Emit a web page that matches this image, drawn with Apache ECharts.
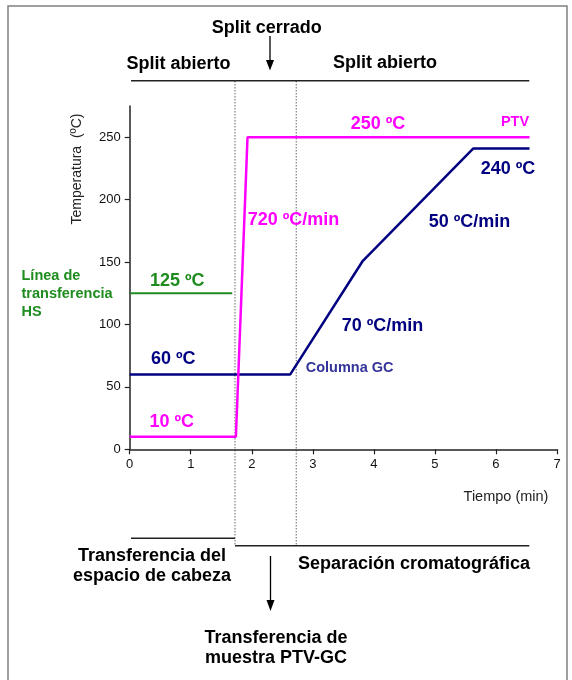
<!DOCTYPE html>
<html>
<head>
<meta charset="utf-8">
<script src="https://cdn.jsdelivr.net/npm/echarts@6/dist/echarts.min.js"></script>
<style>html,body{margin:0;padding:0;background:#fff}#c{width:572px;height:680px}</style>
</head>
<body>
<div id="c"></div>
<script>
// ---- data ----
var ptvTime = [0, 1.74, 1.93, 6.55];
var ptvTemp = [10, 10, 250, 250];
var gcTime = [0, 2.63, 3.82, 5.63, 6.55];
var gcTemp = [60, 60, 151, 241, 241];
var hsTime = [0, 1.68];
var hsTemp = [125, 125];
var splitTimes = [1.725, 2.728];
var yTicks = [0, 50, 100, 150, 200, 250];
var xTicks = [0, 1, 2, 3, 4, 5, 6, 7];

function pairs(xs, ys) { return xs.map(function (x, i) { return [x, ys[i]]; }); }

var FONT = 'Arial, "Liberation Sans", sans-serif';
var MAG = '#FF00FF', NAVY = '#000080', GREEN = '#1E8C1E', GCBLUE = '#333399';

function txt(text, x, y, size, color, align, bold, extra) {
  var o = {
    type: 'text', x: x, y: y, silent: true,
    style: { text: text, fill: color, font: (bold ? 'bold ' : '') + size + 'px ' + FONT,
             align: align || 'center', verticalAlign: 'middle' }
  };
  if (extra) for (var k in extra) o.style[k] = extra[k];
  return o;
}

var chart = echarts.init(document.getElementById('c'), null, { renderer: 'canvas' });
var option = {
  animation: false,
  backgroundColor: '#fff',
  grid: { left: 129.7, right: 15, top: 106, bottom: 230.7, containLabel: false },
  xAxis: {
    type: 'value', min: 0, max: 7, interval: 1,
    axisLine: { show: true, lineStyle: { color: '#222', width: 1.5 } },
    axisTick: { show: true, length: 5, lineStyle: { color: '#222', width: 1.2 } },
    axisLabel: { color: '#111', fontSize: 13, fontFamily: FONT, margin: 9 },
    splitLine: { show: false }
  },
  yAxis: {
    type: 'value', min: 0, max: 275,
    axisLine: { show: true, lineStyle: { color: '#222', width: 1.5 } },
    axisTick: { show: true, length: 5, customValues: yTicks, lineStyle: { color: '#222', width: 1.2 } },
    axisLabel: { color: '#111', fontSize: 13, fontFamily: FONT, margin: 9, customValues: yTicks },
    splitLine: { show: false }
  },
  series: [
    { type: 'line', data: pairs(hsTime, hsTemp), showSymbol: false, lineStyle: { color: GREEN, width: 2 }, z: 3 },
    { type: 'line', data: pairs(gcTime, gcTemp), showSymbol: false, lineStyle: { color: NAVY, width: 2.5 }, z: 4 },
    { type: 'line', data: pairs(ptvTime, ptvTemp), showSymbol: false, lineStyle: { color: MAG, width: 2.5 }, z: 5 }
  ]
};
chart.setOption(option);

var sx = splitTimes.map(function (t) { return chart.convertToPixel({ gridIndex: 0 }, [t, 0])[0]; });
var dot = { stroke: '#666', lineWidth: 1, lineDash: [1.5, 1.5] };
var solid = { stroke: '#222', lineWidth: 1.5 };

var g = [
  // frame
  { type: 'rect', shape: { x: 8, y: 6, width: 559, height: 700 }, style: { fill: 'none', stroke: '#808080', lineWidth: 1.5 }, silent: true },
  // dotted vertical split lines
  { type: 'line', shape: { x1: sx[0], y1: 81, x2: sx[0], y2: 545.7 }, style: dot, silent: true },
  { type: 'line', shape: { x1: sx[1], y1: 81, x2: sx[1], y2: 545.7 }, style: dot, silent: true },
  // top bar
  { type: 'line', shape: { x1: 131, y1: 80.7, x2: 529.3, y2: 80.7 }, style: solid, silent: true },
  // bottom bars
  { type: 'line', shape: { x1: 131, y1: 538.3, x2: sx[0], y2: 538.3 }, style: solid, silent: true },
  { type: 'line', shape: { x1: sx[0], y1: 545.7, x2: 529.3, y2: 545.7 }, style: solid, silent: true },
  // arrows
  { type: 'line', shape: { x1: 270, y1: 36, x2: 270, y2: 62 }, style: { stroke: '#000', lineWidth: 1.3 }, silent: true },
  { type: 'polygon', shape: { points: [[266, 60], [274, 60], [270, 70.5]] }, style: { fill: '#000' }, silent: true },
  { type: 'line', shape: { x1: 270.5, y1: 556, x2: 270.5, y2: 602 }, style: { stroke: '#000', lineWidth: 1.3 }, silent: true },
  { type: 'polygon', shape: { points: [[266.5, 600], [274.5, 600], [270.5, 611]] }, style: { fill: '#000' }, silent: true },
  // header / footer texts
  txt('Split cerrado', 266.7, 28, 18, '#000', 'center', true),
  txt('Split abierto', 178.5, 64.5, 18, '#000', 'center', true),
  txt('Split abierto', 385, 63.5, 18, '#000', 'center', true),
  txt('Transferencia del\nespacio de cabeza', 152, 566, 18, '#000', 'center', true, { lineHeight: 20.5 }),
  txt('Separación cromatográfica', 414, 564, 18, '#000', 'center', true),
  txt('Transferencia de\nmuestra PTV-GC', 276, 648, 18, '#000', 'center', true, { lineHeight: 20 }),
  txt('Línea de\ntransferencia\nHS', 21.5, 293.5, 14.5, GREEN, 'left', true, { lineHeight: 18 }),
  // in-plot labels
  txt('250 ºC', 378, 123.7, 18, MAG, 'center', true),
  txt('PTV', 515, 121.7, 14.5, MAG, 'center', true),
  txt('240 ºC', 508, 169, 18, NAVY, 'center', true),
  txt('50 ºC/min', 469.5, 221.7, 18, NAVY, 'center', true),
  txt('720 ºC/min', 247.7, 219.7, 18, MAG, 'left', true),
  txt('125 ºC', 177.3, 281, 18, GREEN, 'center', true),
  txt('60 ºC', 173.3, 358.7, 18, NAVY, 'center', true),
  txt('10 ºC', 171.7, 422, 18, MAG, 'center', true),
  txt('70 ºC/min', 382.5, 325.7, 18, NAVY, 'center', true),
  txt('Columna GC', 305.7, 367.5, 14.5, GCBLUE, 'left', true),
  // axis titles
  txt('Tiempo (min)', 506, 497, 14.5, '#222', 'center', false),
  { type: 'text', x: 77, y: 169, rotation: Math.PI / 2, silent: true,
    style: { text: 'Temperatura  (ºC)', fill: '#222', font: '14px ' + FONT, align: 'center', verticalAlign: 'middle' } }
];
chart.setOption({ graphic: g });
</script>
</body>
</html>
